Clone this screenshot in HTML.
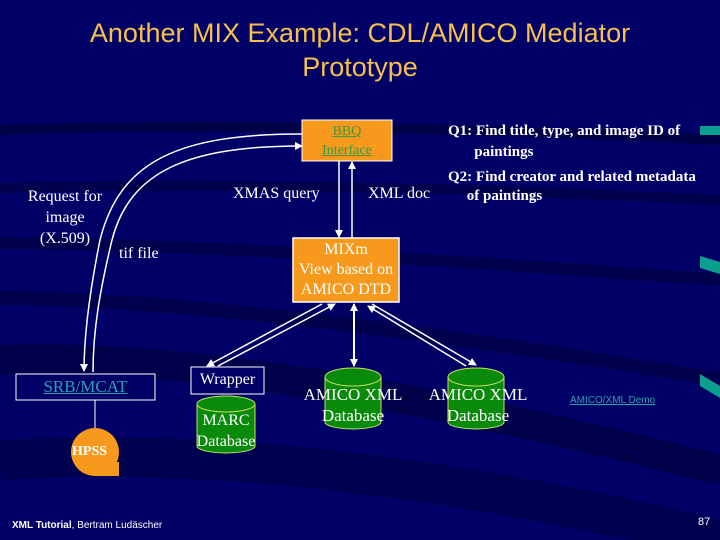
<!DOCTYPE html>
<html><head><meta charset="utf-8"><style>
body{margin:0;width:720px;height:540px;overflow:hidden;background:#000066;font-family:"Liberation Serif",serif;}
.t{position:absolute;color:#fff;white-space:nowrap;}
</style></head><body>
<svg width="720" height="540" style="position:absolute;left:0;top:0">
<defs>
<marker id="a" markerWidth="8" markerHeight="8" refX="7" refY="4" orient="auto" markerUnits="userSpaceOnUse"><path d="M0,0 L8,4 L0,8 Z" fill="#fff"/></marker>
</defs>
<rect width="720" height="540" fill="#000066"/>
<path d="M0,130 Q300,120 720,140" stroke="#00003a" stroke-width="10" fill="none" opacity="0.7"/>
<path d="M0,188 Q300,180 720,200" stroke="#00003a" stroke-width="10" fill="none" opacity="0.6"/>
<path d="M0,243 Q250,245 720,280" stroke="#00003a" stroke-width="12" fill="none" opacity="0.6"/>
<path d="M0,298 Q250,300 720,380" stroke="#00003a" stroke-width="14" fill="none" opacity="0.6"/>
<path d="M0,360 Q250,350 720,470" stroke="#000030" stroke-width="30" fill="none" opacity="0.5"/>
<path d="M0,460 Q300,440 720,540" stroke="#000030" stroke-width="40" fill="none" opacity="0.4"/>
<rect x="700" y="126" width="20" height="9" fill="#0a9f8f"/>
<path d="M700,256 L720,262 L720,274 L700,268Z" fill="#0a9f8f"/>
<path d="M700,374 L720,386 L720,398 L700,386Z" fill="#0a9f8f"/>
<path d="M302,134 C180,134 120,160 100,240 C88,300 84,340 84,371" stroke="#fff" stroke-width="1.5" fill="none" marker-end="url(#a)"/>
<path d="M93,372 C93,330 100,290 112,240 C130,170 190,146 302,146" stroke="#fff" stroke-width="1.5" fill="none" marker-end="url(#a)"/>
<line x1="339" y1="161" x2="339" y2="237" stroke="#fff" stroke-width="1.5" marker-end="url(#a)"/>
<line x1="352" y1="238" x2="352" y2="162" stroke="#fff" stroke-width="1.5" marker-end="url(#a)"/>
<line x1="322" y1="304" x2="207" y2="366" stroke="#fff" stroke-width="1.5" marker-end="url(#a)"/>
<line x1="218" y1="366" x2="335" y2="304" stroke="#fff" stroke-width="1.5" marker-end="url(#a)"/>
<line x1="354" y1="304" x2="354" y2="366" stroke="#fff" stroke-width="2" marker-end="url(#a)"/>
<line x1="354" y1="366" x2="354" y2="304" stroke="#fff" stroke-width="2" marker-end="url(#a)"/>
<line x1="372" y1="304" x2="476" y2="365" stroke="#fff" stroke-width="1.5" marker-end="url(#a)"/>
<line x1="466" y1="366" x2="368" y2="306" stroke="#fff" stroke-width="1.5" marker-end="url(#a)"/>
<line x1="95" y1="400" x2="95" y2="430" stroke="#fff" stroke-width="1"/>
<rect x="302" y="120" width="90" height="41" fill="#f7991c" stroke="#fff" stroke-width="1"/>
<rect x="293" y="238" width="106" height="64" fill="#f7991c" stroke="#fff" stroke-width="1.5"/>
<rect x="16" y="374" width="139" height="26" fill="#000066" stroke="#fff" stroke-width="1"/>
<rect x="191" y="367" width="73" height="27" fill="#000066" stroke="#fff" stroke-width="1"/>
<circle cx="95" cy="452" r="24" fill="#f7991c"/>
<rect x="95" y="462" width="24" height="14" fill="#f7991c"/>
<g fill="#0a8a0a" stroke="#c8e060" stroke-width="1">
<path d="M197,404 L197,446 A29,7 0 0 0 255,446 L255,404"/>
<ellipse cx="226" cy="404" rx="29" ry="8"/>
<path d="M325,377 L325,422 A28,7 0 0 0 381,422 L381,377"/>
<ellipse cx="353" cy="377" rx="28" ry="9"/>
<path d="M448,377 L448,422 A28,7 0 0 0 504,422 L504,377"/>
<ellipse cx="476" cy="377" rx="28" ry="9"/>
</g>
</svg>
<div class="t" style="left:0;width:720px;text-align:center;top:16px;font-family:'Liberation Sans',sans-serif;font-size:27px;line-height:34px;color:#f7c04a">Another MIX Example: CDL/AMICO Mediator<br>Prototype</div>
<div class="t" style="left:302px;width:90px;text-align:center;top:122px;font-size:14px;line-height:19px;color:#3a9a40;text-decoration:underline">BBQ<br>Interface</div>
<div class="t" style="left:448px;top:121px;font-size:15px;line-height:21px;font-weight:bold">Q1: Find title, type, and image ID of<br>&nbsp;&nbsp;&nbsp;&nbsp;&nbsp;&nbsp;&nbsp;paintings</div>
<div class="t" style="left:448px;top:168px;font-size:15px;line-height:19px;font-weight:bold">Q2: Find creator and related metadata<br>&nbsp;&nbsp;&nbsp;&nbsp;&nbsp;of paintings</div>
<div class="t" style="left:233px;top:185px;font-size:16px">XMAS query</div>
<div class="t" style="left:368px;top:185px;font-size:16px">XML doc</div>
<div class="t" style="left:18px;width:94px;text-align:center;top:186px;font-size:16px;line-height:21px">Request for<br>image<br>(X.509)</div>
<div class="t" style="left:119px;top:245px;font-size:16px">tif file</div>
<div class="t" style="left:293px;width:106px;text-align:center;top:240px;font-size:16px;line-height:20px">MIXm<br>View based on<br>AMICO DTD</div>
<div class="t" style="left:16px;width:139px;text-align:center;top:377px;font-size:17px;color:#2aa0b0;text-decoration:underline">SRB/MCAT</div>
<div class="t" style="left:72px;top:444px;font-size:14px;font-weight:bold">HPSS</div>
<div class="t" style="left:191px;width:73px;text-align:center;top:371px;font-size:16px">Wrapper</div>
<div class="t" style="left:190px;width:72px;text-align:center;top:410px;font-size:16px;line-height:21px">MARC<br>Database</div>
<div class="t" style="left:300px;width:106px;text-align:center;top:384px;font-size:17px;line-height:21px">AMICO XML<br>Database</div>
<div class="t" style="left:425px;width:106px;text-align:center;top:384px;font-size:17px;line-height:21px">AMICO XML<br>Database</div>
<div class="t" style="left:570px;top:395px;font-family:'Liberation Sans',sans-serif;font-size:10px;color:#2aa0b0;text-decoration:underline">AMICO/XML Demo</div>
<div class="t" style="left:12px;top:520px;font-family:'Liberation Sans',sans-serif;font-size:10px"><b>XML Tutorial</b>, Bertram Ludäscher</div>
<div class="t" style="left:698px;top:516px;font-family:'Liberation Sans',sans-serif;font-size:11px">87</div>
</body></html>
